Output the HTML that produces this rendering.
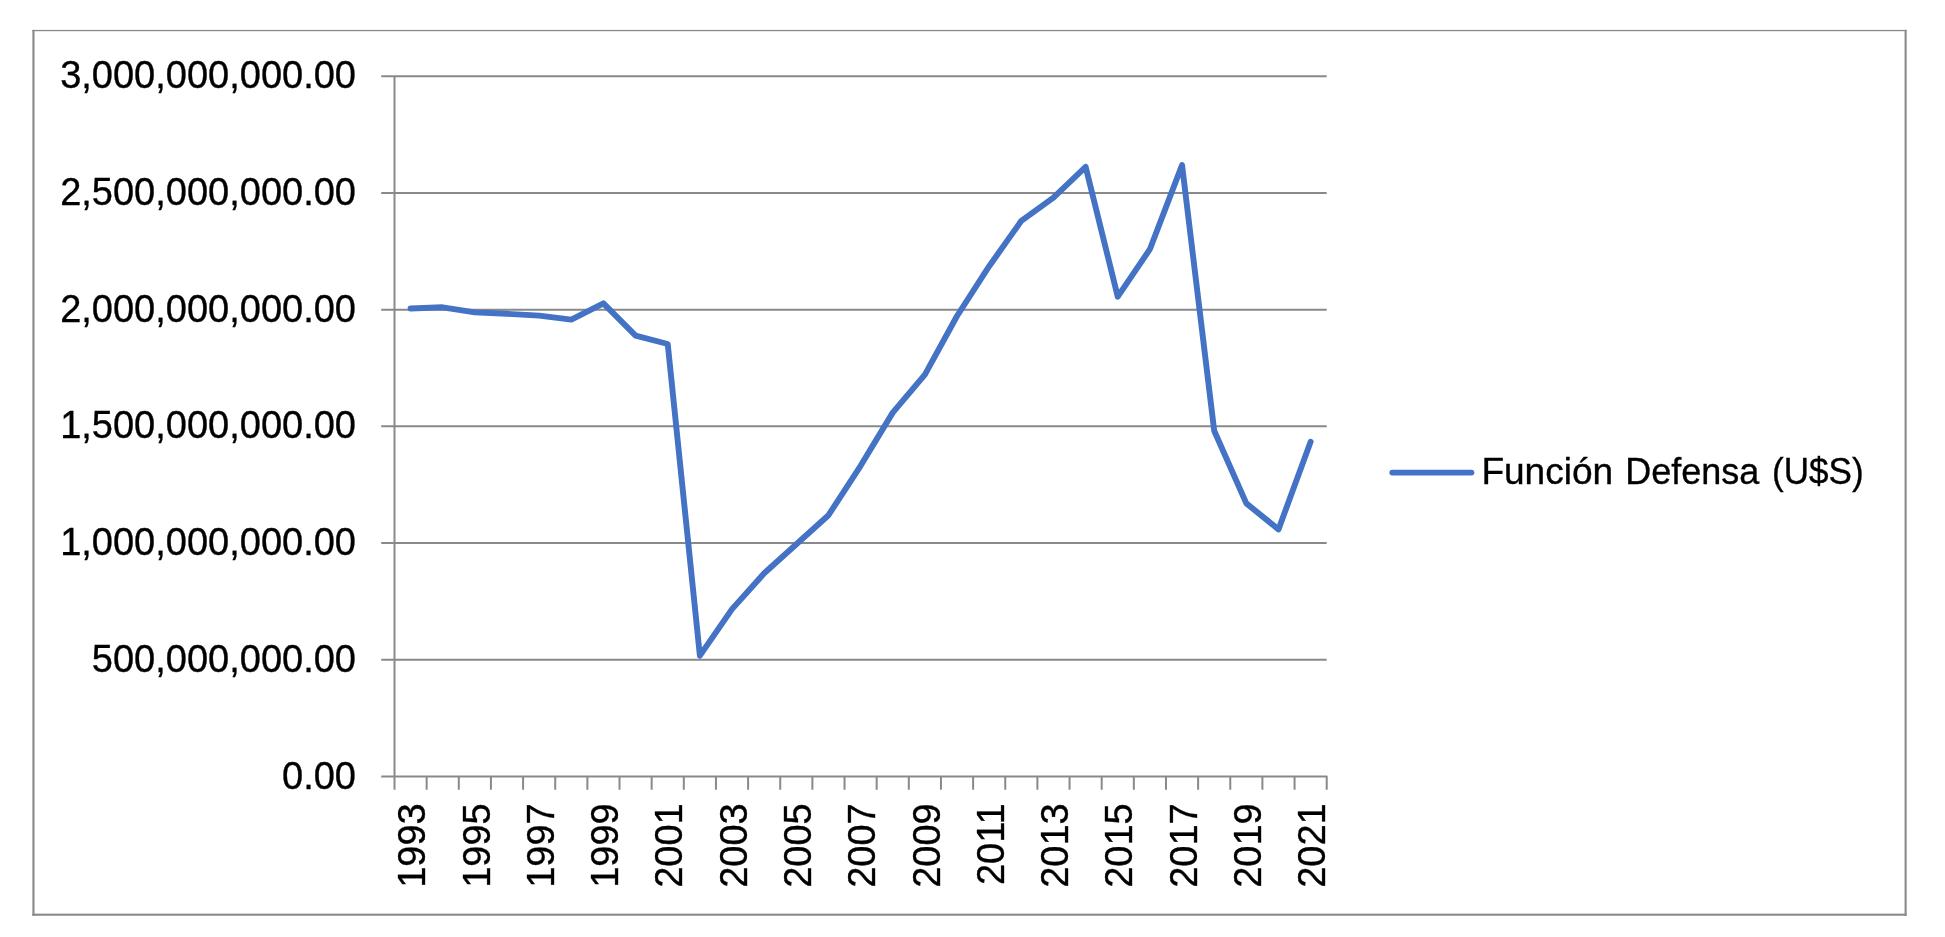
<!DOCTYPE html>
<html><head><meta charset="utf-8"><title>Chart</title>
<style>html,body{margin:0;padding:0;background:#fff;width:1945px;height:937px;overflow:hidden}
svg{display:block;font-family:"Liberation Sans",sans-serif;fill:#000;will-change:transform} text{stroke:#000;stroke-width:0.35px}</style></head>
<body><svg width="1945" height="937" viewBox="0 0 1945 937">
<rect x="32.40" y="29.90" width="1874.25" height="1.3" fill="#898989"/>
<rect x="32.40" y="913.65" width="1874.25" height="2.1" fill="#898989"/>
<rect x="32.40" y="29.90" width="2.1" height="885.85" fill="#898989"/>
<rect x="1904.55" y="29.90" width="2.1" height="885.85" fill="#898989"/>
<path d="M381.2 659.72H1326.7 M381.2 543.03H1326.7 M381.2 426.35H1326.7 M381.2 309.67H1326.7 M381.2 192.98H1326.7 M381.2 76.30H1326.7" stroke="#898989" stroke-width="2.0" fill="none"/>
<path d="M394.5 76.30V789.70 M381.2 776.4H1326.7V789.70 M426.64 776.4V789.70 M458.79 776.4V789.70 M490.93 776.4V789.70 M523.08 776.4V789.70 M555.22 776.4V789.70 M587.37 776.4V789.70 M619.51 776.4V789.70 M651.66 776.4V789.70 M683.80 776.4V789.70 M715.95 776.4V789.70 M748.09 776.4V789.70 M780.24 776.4V789.70 M812.38 776.4V789.70 M844.53 776.4V789.70 M876.67 776.4V789.70 M908.82 776.4V789.70 M940.96 776.4V789.70 M973.11 776.4V789.70 M1005.25 776.4V789.70 M1037.40 776.4V789.70 M1069.54 776.4V789.70 M1101.69 776.4V789.70 M1133.83 776.4V789.70 M1165.98 776.4V789.70 M1198.12 776.4V789.70 M1230.27 776.4V789.70 M1262.41 776.4V789.70 M1294.56 776.4V789.70" stroke="#898989" stroke-width="2.0" fill="none" stroke-linejoin="round"/>
<polyline points="410.57,308.50 442.72,307.30 474.86,312.40 507.01,313.80 539.15,315.60 571.30,319.60 603.44,303.30 635.59,335.70 667.73,344.00 699.88,655.70 732.02,609.10 764.17,573.30 796.31,544.30 828.46,515.20 860.60,465.80 892.74,412.60 924.89,374.70 957.03,316.00 989.18,266.20 1021.32,220.80 1053.47,197.70 1085.61,166.80 1117.76,296.70 1149.90,249.20 1182.05,165.10 1214.19,430.70 1246.34,503.40 1278.48,529.40 1310.63,441.80" fill="none" stroke="#4472C4" stroke-width="5.9" stroke-linejoin="round" stroke-linecap="round"/>
<text x="356.0" y="775.50" text-anchor="end" dominant-baseline="central" font-size="38.0">0.00</text>
<text x="356.0" y="658.82" text-anchor="end" dominant-baseline="central" font-size="38.0">500,000,000.00</text>
<text x="356.0" y="542.13" text-anchor="end" dominant-baseline="central" font-size="38.0">1,000,000,000.00</text>
<text x="356.0" y="425.45" text-anchor="end" dominant-baseline="central" font-size="38.0">1,500,000,000.00</text>
<text x="356.0" y="308.77" text-anchor="end" dominant-baseline="central" font-size="38.0">2,000,000,000.00</text>
<text x="356.0" y="192.08" text-anchor="end" dominant-baseline="central" font-size="38.0">2,500,000,000.00</text>
<text x="356.0" y="75.40" text-anchor="end" dominant-baseline="central" font-size="38.0">3,000,000,000.00</text>
<text transform="translate(412.27,803.3) rotate(-90)" text-anchor="end" dominant-baseline="central" font-size="38.0">1993</text>
<text transform="translate(476.56,803.3) rotate(-90)" text-anchor="end" dominant-baseline="central" font-size="38.0">1995</text>
<text transform="translate(540.85,803.3) rotate(-90)" text-anchor="end" dominant-baseline="central" font-size="38.0">1997</text>
<text transform="translate(605.14,803.3) rotate(-90)" text-anchor="end" dominant-baseline="central" font-size="38.0">1999</text>
<text transform="translate(669.43,803.3) rotate(-90)" text-anchor="end" dominant-baseline="central" font-size="38.0">2001</text>
<text transform="translate(733.72,803.3) rotate(-90)" text-anchor="end" dominant-baseline="central" font-size="38.0">2003</text>
<text transform="translate(798.01,803.3) rotate(-90)" text-anchor="end" dominant-baseline="central" font-size="38.0">2005</text>
<text transform="translate(862.30,803.3) rotate(-90)" text-anchor="end" dominant-baseline="central" font-size="38.0">2007</text>
<text transform="translate(926.59,803.3) rotate(-90)" text-anchor="end" dominant-baseline="central" font-size="38.0">2009</text>
<text transform="translate(990.88,803.3) rotate(-90)" text-anchor="end" dominant-baseline="central" font-size="38.0">2011</text>
<text transform="translate(1055.17,803.3) rotate(-90)" text-anchor="end" dominant-baseline="central" font-size="38.0">2013</text>
<text transform="translate(1119.46,803.3) rotate(-90)" text-anchor="end" dominant-baseline="central" font-size="38.0">2015</text>
<text transform="translate(1183.75,803.3) rotate(-90)" text-anchor="end" dominant-baseline="central" font-size="38.0">2017</text>
<text transform="translate(1248.04,803.3) rotate(-90)" text-anchor="end" dominant-baseline="central" font-size="38.0">2019</text>
<text transform="translate(1312.33,803.3) rotate(-90)" text-anchor="end" dominant-baseline="central" font-size="38.0">2021</text>
<path d="M1392.3 472.6H1471.4" stroke="#4472C4" stroke-width="5.9" stroke-linecap="round"/>
<text x="1481.4" y="483.6" font-size="37.0" textLength="131.8" lengthAdjust="spacingAndGlyphs">Función</text>
<text x="1625.2" y="483.6" font-size="37.0" textLength="134.0" lengthAdjust="spacingAndGlyphs">Defensa</text>
<text x="1772.0" y="483.6" font-size="37.0" textLength="91.6" lengthAdjust="spacingAndGlyphs">(U$S)</text>
</svg></body></html>
